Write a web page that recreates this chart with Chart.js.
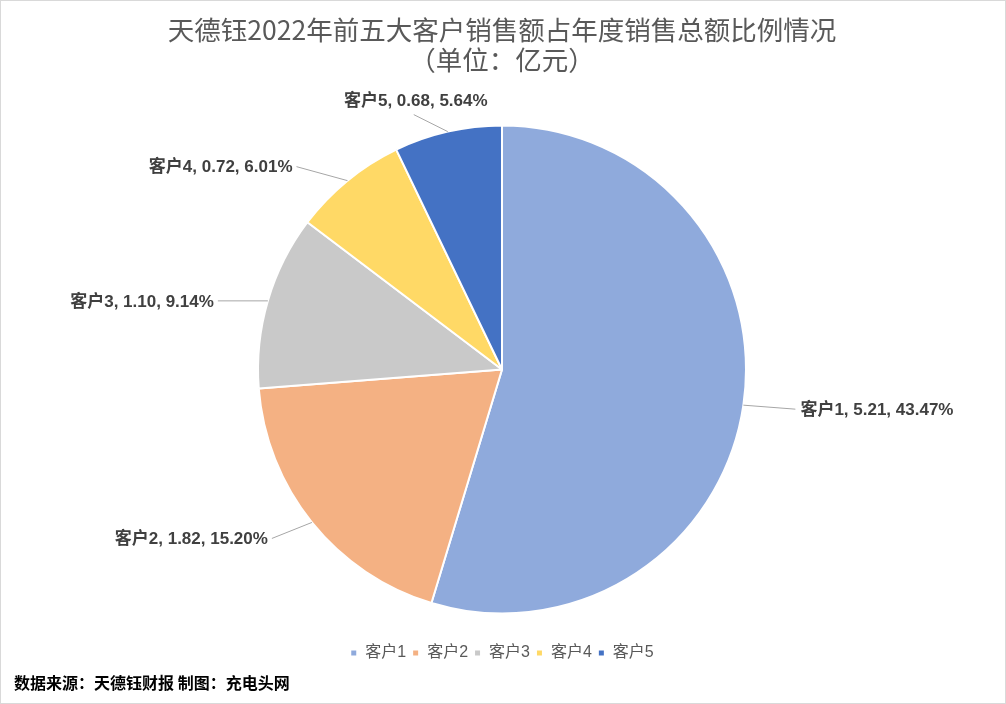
<!DOCTYPE html>
<html lang="zh-CN">
<head>
    <meta charset="UTF-8">
    <title>天德钰2022年前五大客户销售额占比</title>
    <script src="https://cdnjs.cloudflare.com/ajax/libs/Chart.js/4.4.0/chart.umd.min.js"></script>
    <style>
        html, body { margin: 0; padding: 0; background: #fff; }
        #wrap { width: 1006px; height: 704px; }
    </style>
</head>
<body>
    <div id="wrap"><canvas id="pieChart" width="1006" height="704"></canvas></div>

    <script>
        // data
        const customers = ['客户1', '客户2', '客户3', '客户4', '客户5'];
        const sales = [5.21, 1.82, 1.10, 0.72, 0.68];
        const shareText = ['43.47%', '15.20%', '9.14%', '6.01%', '5.64%'];
        const sliceColors = ['#8FAADC', '#F4B183', '#C9C9C9', '#FFD966', '#4472C4'];

        // where each label's leader line ends, relative to the slice edge (style only)
        const leaderOffsets = [[52, 4], [-40, 16], [-50, 0], [-51, -14], [-34, -17]];
        const labelAlign = ['left', 'right', 'right', 'right', 'above'];

        const cjk = '"Liberation Sans", "Noto Sans CJK SC", sans-serif';

        // draws "name, value, percent" labels with thin leader lines
        const outsideLabels = {
            id: 'outsideLabels',
            afterDatasetsDraw(chart) {
                const ctx = chart.ctx;
                const arcs = chart.getDatasetMeta(0).data;
                ctx.save();
                ctx.font = 'bold 17px ' + cjk;
                ctx.textBaseline = 'middle';
                arcs.forEach((arc, i) => {
                    const mid = (arc.startAngle + arc.endAngle) / 2;
                    const ex = arc.x + Math.cos(mid) * arc.outerRadius;
                    const ey = arc.y + Math.sin(mid) * arc.outerRadius;
                    const lx = ex + leaderOffsets[i][0];
                    const ly = ey + leaderOffsets[i][1];

                    ctx.strokeStyle = '#A6A6A6';
                    ctx.lineWidth = 1;
                    ctx.beginPath();
                    ctx.moveTo(ex, ey);
                    ctx.lineTo(lx, ly);
                    ctx.stroke();

                    const text = customers[i] + ', ' + sales[i].toFixed(2) + ', ' + shareText[i];
                    ctx.fillStyle = '#404040';
                    if (labelAlign[i] === 'left') {
                        ctx.textAlign = 'left';
                        ctx.fillText(text, lx + 5, ly + 1);
                    } else if (labelAlign[i] === 'right') {
                        ctx.textAlign = 'right';
                        ctx.fillText(text, lx - 4, ly + 1);
                    } else {
                        ctx.textAlign = 'center';
                        ctx.fillText(text, lx + 2, ly - 13);
                    }
                });
                ctx.restore();
            },
            afterDraw(chart) {
                const ctx = chart.ctx;
                ctx.save();
                // source note
                ctx.font = 'bold 16px "Noto Sans CJK SC", sans-serif';
                ctx.fillStyle = '#000';
                ctx.textAlign = 'left';
                ctx.textBaseline = 'middle';
                ctx.fillText('数据来源：天德钰财报 制图：充电头网', 14, 683);
                // outer frame
                ctx.strokeStyle = '#D9D9D9';
                ctx.lineWidth = 1;
                ctx.strokeRect(0.5, 0.5, chart.width - 1, chart.height - 1);
                ctx.restore();
            }
        };

        new Chart(document.getElementById('pieChart'), {
            type: 'pie',
            data: {
                labels: customers,
                datasets: [{
                    data: sales,
                    backgroundColor: sliceColors,
                    borderColor: '#FFFFFF',
                    borderWidth: 2
                }]
            },
            options: {
                responsive: false,
                animation: false,
                devicePixelRatio: 1,
                radius: 244,
                layout: { padding: { top: 3, bottom: 33, left: 0, right: 2 } },
                plugins: {
                    title: {
                        display: true,
                        text: ['天德钰2022年前五大客户销售额占年度销售总额比例情况', '（单位：亿元）'],
                        color: '#595959',
                        font: { family: '"Noto Sans CJK SC", sans-serif', size: 26.5, weight: 'normal', lineHeight: '30px' },
                        padding: { top: 12, bottom: 25 }
                    },
                    legend: {
                        position: 'bottom',
                        labels: {
                            color: '#595959',
                            boxWidth: 7,
                            boxHeight: 7,
                            padding: 6,
                            font: { family: cjk, size: 16 }
                        }
                    },
                    tooltip: { enabled: false }
                }
            },
            plugins: [outsideLabels]
        });
    </script>
</body>
</html>
